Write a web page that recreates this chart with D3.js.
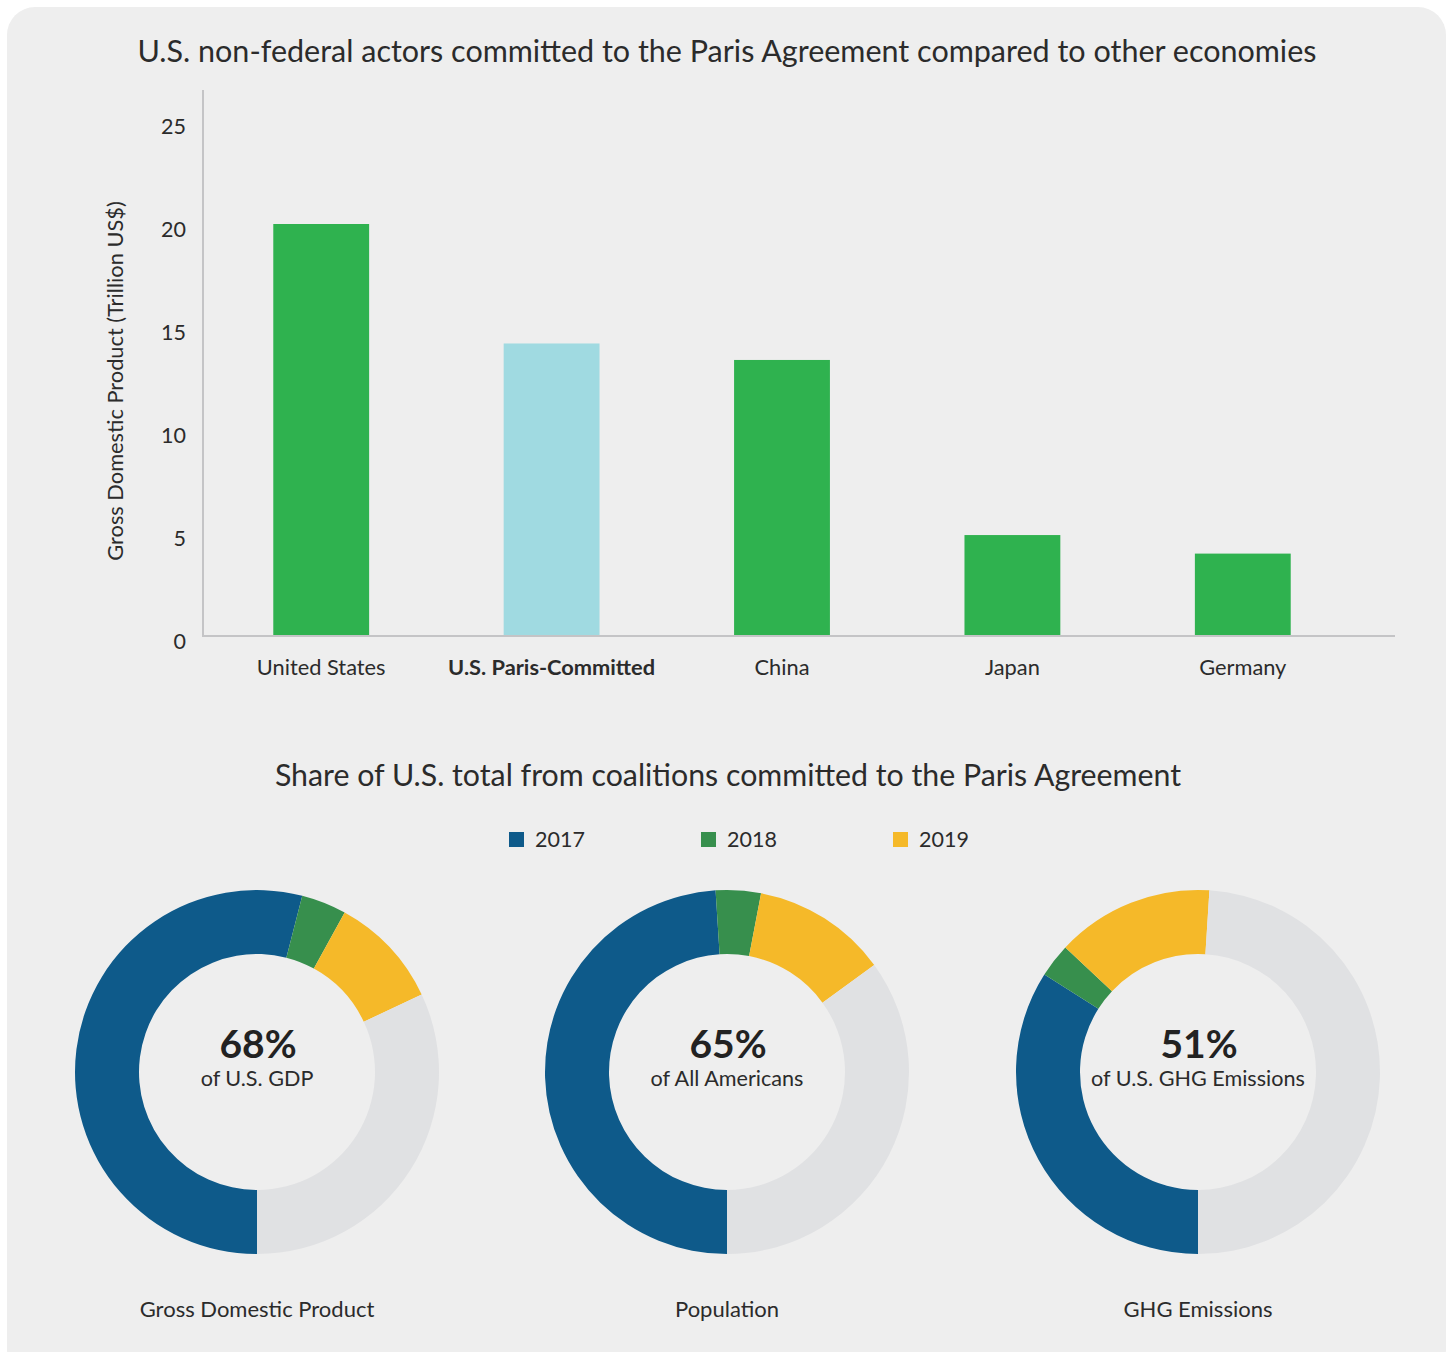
<!DOCTYPE html>
<html>
<head>
<meta charset="utf-8">
<script src="https://cdn.jsdelivr.net/npm/d3@7"></script>
<style>
  body { margin: 0; background: #fff; }
  svg { display: block; font-family: Lato, "Open Sans", sans-serif; }
</style>
</head>
<body>
<svg></svg>
<script>
// bar chart data
const countries = ['United States', 'U.S. Paris-Committed', 'China', 'Japan', 'Germany']
const gdp = [20.0, 14.2, 13.4, 4.9, 4.0]
const yTicks = [0, 5, 10, 15, 20, 25]

// donut data (percent of U.S. total)
const years = ['2017', '2018', '2019']
const donutNames = ['Gross Domestic Product', 'Population', 'GHG Emissions']
const donutSubs = ['of U.S. GDP', 'of All Americans', 'of U.S. GHG Emissions']
const share2017 = [54, 49, 34]
const share2018 = [4, 4, 3]
const share2019 = [10, 12, 14]

const W = 1453, H = 1352
const svg = d3.select('svg').attr('width', W).attr('height', H)

// card background
svg.append('rect')
  .attr('x', 7).attr('y', 7)
  .attr('width', 1439).attr('height', 1370)
  .attr('rx', 28)
  .style('fill', '#eeeeee')

const textColor = '#2b2b2b'

svg.append('text')
  .attr('x', 727).attr('y', 62)
  .attr('text-anchor', 'middle')
  .style('font-size', '30.5px')
  .style('fill', textColor)
  .text('U.S. non-federal actors committed to the Paris Agreement compared to other economies')

// scales
const x = d3.scaleBand()
  .domain(countries)
  .range([206, 1358])
  .paddingInner(0.584)
  .paddingOuter(0.292)

const y = d3.scaleLinear()
  .domain([0, 25])
  .range([636, 121])

const barColors = ['#2fb24f', '#a0dae1', '#2fb24f', '#2fb24f', '#2fb24f']

svg.append('g')
  .selectAll('rect')
  .data(gdp)
  .enter()
  .append('rect')
  .attr('x', (d, i) => x(countries[i]))
  .attr('y', d => y(d))
  .attr('width', x.bandwidth())
  .attr('height', d => y(0) - y(d))
  .style('fill', (d, i) => barColors[i])

// axes, drawn with d3 axis then restyled
const yAxis = svg.append('g')
  .attr('transform', 'translate(203,0)')
  .call(d3.axisLeft(y).tickValues(yTicks).tickSize(0).tickPadding(17))
yAxis.select('.domain').remove()
yAxis.selectAll('text')
  .attr('dy', '0.58em')
  .style('font-family', 'Lato, sans-serif')
  .style('font-size', '21.5px')
  .style('fill', textColor)

const xAxis = svg.append('g')
  .attr('transform', 'translate(0,636)')
  .call(d3.axisBottom(x).tickSize(0).tickPadding(24))
xAxis.select('.domain').remove()
xAxis.selectAll('text')
  .style('font-family', 'Lato, sans-serif')
  .style('font-size', '21.8px')
  .style('fill', textColor)
  .style('font-weight', d => d === 'U.S. Paris-Committed' ? 'bold' : 'normal')

// axis lines
svg.append('path')
  .attr('d', 'M203,90 V636 H1395')
  .style('fill', 'none')
  .style('stroke', '#c4c4c6')
  .style('stroke-width', 2)

svg.append('text')
  .attr('transform', 'translate(123,381) rotate(-90)')
  .attr('text-anchor', 'middle')
  .style('font-size', '21.8px')
  .style('fill', textColor)
  .text('Gross Domestic Product (Trillion US$)')

// second section
svg.append('text')
  .attr('x', 728).attr('y', 786)
  .attr('text-anchor', 'middle')
  .style('font-size', '30.3px')
  .style('fill', textColor)
  .text('Share of U.S. total from coalitions committed to the Paris Agreement')

const yearColors = ['#0e5a8a', '#378f4d', '#f5b929']
const restColor = '#e0e1e3'

const legend = svg.append('g')
  .selectAll('g')
  .data(years)
  .enter()
  .append('g')
  .attr('transform', (d, i) => `translate(${509 + i * 192},832)`)
legend.append('rect')
  .attr('width', 15).attr('height', 15)
  .style('fill', (d, i) => yearColors[i])
legend.append('text')
  .attr('x', 26).attr('y', 15)
  .style('font-size', '21.5px')
  .style('fill', textColor)
  .text(d => d)

const pie = d3.pie()
  .sort(null)
  .startAngle(Math.PI)
  .endAngle(3 * Math.PI)
  .value(d => d.v)

const arc = d3.arc()
  .innerRadius(118)
  .outerRadius(182)

const donutX = [257, 727, 1198]

donutNames.forEach((name, i) => {
  const vals = [share2017[i], share2018[i], share2019[i]]
  const total = d3.sum(vals)
  const slices = vals.map((v, j) => ({ v: v, c: yearColors[j] }))
  slices.push({ v: 100 - total, c: restColor })

  const g = svg.append('g')
    .attr('transform', `translate(${donutX[i]},1072)`)

  g.selectAll('path')
    .data(pie(slices))
    .enter()
    .append('path')
    .attr('d', arc)
    .style('fill', d => d.data.c)

  g.append('text')
    .attr('x', 1).attr('y', -14)
    .attr('text-anchor', 'middle')
    .style('font-size', '39px')
    .style('font-weight', 'bold')
    .style('fill', '#222')
    .text(total + '%')

  g.append('text')
    .attr('y', 14)
    .attr('text-anchor', 'middle')
    .style('font-size', '21.6px')
    .style('fill', textColor)
    .text(donutSubs[i])

  g.append('text')
    .attr('y', 245)
    .attr('text-anchor', 'middle')
    .style('font-size', '22px')
    .style('fill', textColor)
    .text(name)
})
</script>
</body>
</html>
